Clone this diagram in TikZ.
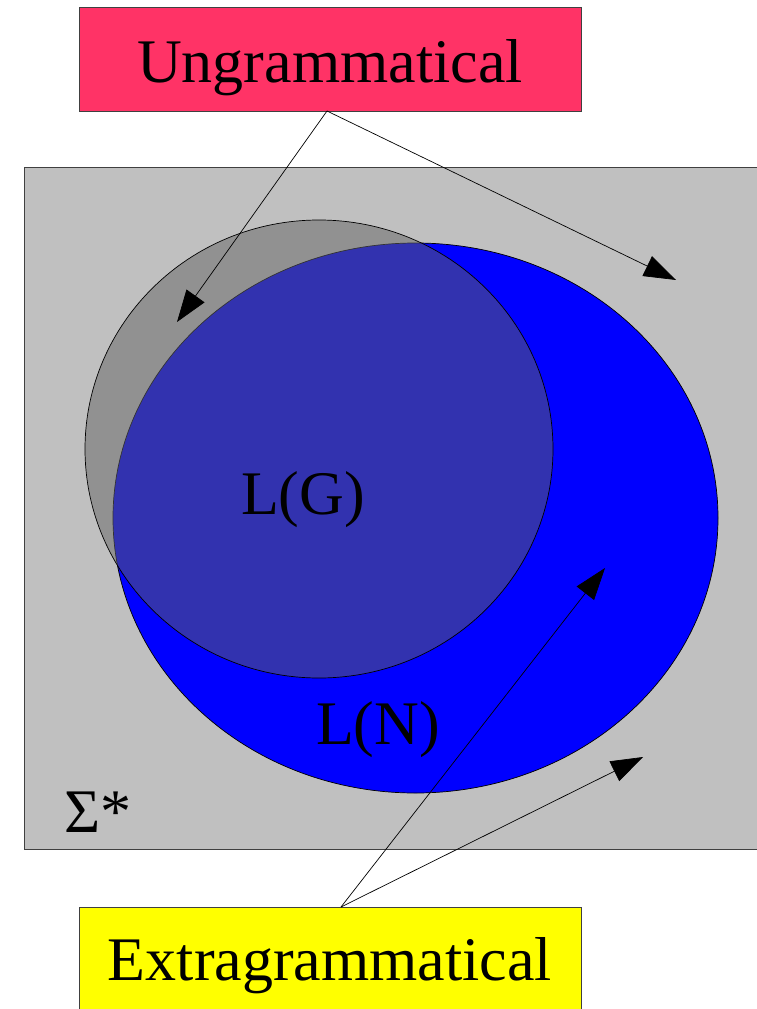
\documentclass[tikz,border=0pt]{standalone}
\usepackage{fontspec}
\setmainfont{Liberation Serif}
\usetikzlibrary{arrows.meta}
\definecolor{ungred}{HTML}{FF3366}
\definecolor{bggray}{HTML}{C0C0C0}
\definecolor{edgegray}{HTML}{404040}
\definecolor{lgfill}{HTML}{646464}
\definecolor{lnblue}{HTML}{0000FF}
\definecolor{extyellow}{HTML}{FFFF00}
\tikzset{
  bigtext/.style={font=\fontsize{62}{70}\selectfont},
  labelbox/.style={draw=edgegray, line width=0.8pt, inner sep=0pt, minimum width=502pt, align=center, bigtext},
  pointer/.style={line width=0.7pt, -{Triangle[length=32pt, width=22pt]}},
}
\begin{document}
\begin{tikzpicture}[x=1pt, y=-1pt]
\useasboundingbox (0,0) rectangle (756,1009);
% Sigma* universe
\draw[draw=edgegray, line width=1pt, fill=bggray] (24,167) rectangle (820,849);
% L(N)
\draw[black, line width=0.7pt, fill=lnblue] (415.5,518) ellipse [x radius=302.5, y radius=275];
% L(G)
\draw[black, line width=0.7pt, fill=lgfill, fill opacity=0.51] (319,449) ellipse [x radius=234, y radius=229];
% labels
\node[bigtext, anchor=base] (lg) at (303,514) {L(G)};
\node[bigtext, anchor=base] (ln) at (378,744) {L(N)};
\node[bigtext, anchor=base west, inner sep=0pt] (sigma) at (64,832) {Σ*};
% boxes
\node[labelbox, fill=ungred, text height=75pt, text depth=29pt] (ung) at (330,59) {Ungrammatical};
\node[labelbox, fill=extyellow, text height=73pt, text depth=37pt, anchor=north] (ext) at (330,907) {Extragrammatical};
% arrow targets
\coordinate (t1) at (177,322);
\coordinate (t2) at (676,280);
\coordinate (t3) at (605,568);
\coordinate (t4) at (643,757);
\coordinate (ua) at (327,111);
\coordinate (ea) at (341,907);
\draw[pointer] (ua) -- (t1);
\draw[pointer] (ua) -- (t2);
\draw[pointer] (ea) -- (t3);
\draw[pointer] (ea) -- (t4);
\end{tikzpicture}
\end{document}
